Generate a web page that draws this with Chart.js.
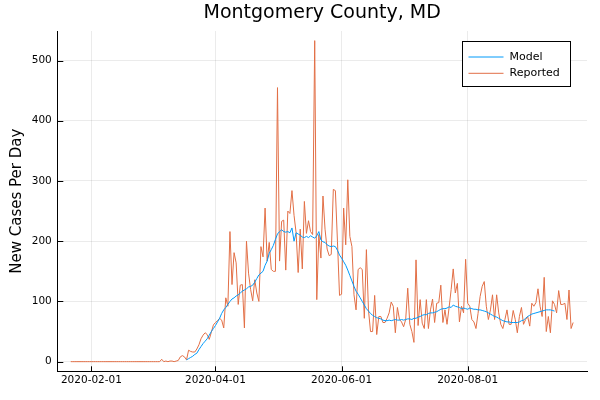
<!DOCTYPE html>
<html>
<head>
<meta charset="utf-8">
<script src="https://cdn.jsdelivr.net/npm/chart.js@4.4.1/dist/chart.umd.min.js"></script>
<style>
  html, body { margin: 0; padding: 0; background: #fff; }
  #wrap { width: 600px; height: 400px; }
</style>
</head>
<body>
<div id="wrap"><canvas id="chart" width="600" height="400"></canvas></div>
<script>
// data (daily values)
var chartTitle = 'Montgomery County, MD';
var yTitle = 'New Cases Per Day';
var startDate = '2020-01-22';      // first reported day
var modelStart = '2020-03-18';     // first model day
var xTickLabels = ['2020-02-01', '2020-04-01', '2020-06-01', '2020-08-01'];
var yTickValues = [0, 100, 200, 300, 400, 500];

var reported = [
    0, 0, 0, 0, 0, 0, 0, 0, 0, 0,
    0, 0, 0, 0, 0, 0, 0, 0, 0, 0,
    0, 0, 0, 0, 0, 0, 0, 0, 0, 0,
    0, 0, 0, 0, 0, 0, 0, 0, 0, 0,
    0, 0, 0,
    0, 4, 0, 1, 0, 1, 1, 0, 1, 2,
    8, 10, 8, 3, 19, 17, 16, 16, 21, 28,
    38, 44, 48, 45, 37, 49, 61, 65, 68, 72,
    69, 56, 106, 92, 216, 128, 181, 164, 95, 127,
    128, 56, 200, 147, 120, 101, 136, 114, 100, 191,
    174, 255, 167, 198, 153, 150, 150, 455, 167, 233,
    235, 152, 250, 246, 284, 243, 214, 148, 220, 154,
    266, 213, 234, 216, 211, 533, 103, 211, 172, 275,
    220, 187, 176, 178, 286, 284, 200, 110, 112, 255,
    194, 302, 208, 191, 111, 86, 153, 156, 153, 72,
    186, 86, 50, 50, 110, 45, 75, 75, 65, 65,
    72, 81, 99, 92, 48, 90, 70, 66, 58, 70,
    122, 62, 50, 32, 169, 60, 103, 64, 55, 103,
    55, 86, 104, 65, 97, 98, 127, 65, 86, 62,
    90, 120, 154, 114, 130, 66, 92, 81, 170, 97,
    92, 70, 66, 55, 80, 108, 125, 133, 92, 70,
    86, 111, 70, 111, 81, 62, 55, 70, 86, 62,
    62, 85, 70, 48, 75, 90, 62, 70, 75, 59,
    97, 92, 98, 121, 92, 75, 140, 50, 75, 48,
    101, 95, 81, 118, 95, 95, 97, 70, 119, 55,
    65
];

var model = [
    3, 5, 7, 9, 12, 14, 20, 25, 30, 34,
    38, 44, 50, 55, 60, 66, 72, 80, 86, 90,
    95, 100, 104, 106, 109, 111, 114, 117, 119, 121,
    124, 125, 127, 132, 138, 144, 147, 150, 160, 167,
    180, 186, 193, 203, 212, 216, 219, 216, 215, 216,
    214, 222, 200, 214, 212, 210, 207, 206, 208, 206,
    209, 207, 205, 209, 216, 202, 199, 198, 194, 192,
    191, 192, 191, 185, 177, 172, 166, 160, 152, 143,
    134, 125, 117, 112, 106, 100, 94, 88, 84, 80,
    77, 75, 73, 72, 71, 69, 68, 68, 69, 68,
    69, 70, 69, 69, 70, 69, 70, 71, 71, 70,
    72, 72, 74, 75, 77, 78, 78, 80, 81, 81,
    82, 83, 85, 87, 88, 88, 89, 91, 90, 94,
    92, 91, 90, 88, 89, 88, 87, 89, 88, 87,
    87, 86, 86, 85, 84, 83, 81, 79, 77, 75,
    74, 72, 70, 68, 67, 66, 66, 65, 65, 65,
    65, 66, 68, 69, 72, 75, 77, 79, 80, 81,
    82, 83, 84, 85, 86, 86, 86, 85, 84
];

var blue = '#009AFA';
var orange = '#E26F46';
var font = 'DejaVu Sans';

// days since startDate
function dayIndex(s) {
    return Math.round((Date.parse(s) - Date.parse(startDate)) / 86400000);
}

function dateLabel(v) {
    var d = new Date(Date.parse(startDate) + v * 86400000);
    return d.toISOString().slice(0, 10);
}

var modelOffset = dayIndex(modelStart);
var reportedPts = reported.map(function (v, i) { return {x: i, y: v}; });
var modelPts = model.map(function (v, i) { return {x: i + modelOffset, y: v}; });

// small tick marks pointing into the plot
var innerTicks = {
    id: 'innerTicks',
    afterDatasetsDraw: function (chart) {
        var ctx = chart.ctx, a = chart.chartArea;
        var xs = chart.scales.x, ys = chart.scales.y;
        ctx.save();
        ctx.strokeStyle = '#000';
        ctx.lineWidth = 1;
        ctx.beginPath();
        xs.ticks.forEach(function (t) {
            var px = Math.round(xs.getPixelForValue(t.value)) + 0.5;
            ctx.moveTo(px, a.bottom);
            ctx.lineTo(px, a.bottom - 5);
        });
        ys.ticks.forEach(function (t) {
            var py = Math.round(ys.getPixelForValue(t.value)) + 0.5;
            ctx.moveTo(a.left, py);
            ctx.lineTo(a.left + 6, py);
        });
        ctx.stroke();
        ctx.restore();
    }
};

// framed legend in the top right corner of the plot
var boxLegend = {
    id: 'boxLegend',
    afterDraw: function (chart) {
        var ctx = chart.ctx, a = chart.chartArea;
        var bx = Math.round(a.right - 125) + 0.5;
        var by = Math.round(a.top + 10) + 0.5;
        var w = 108, h = 45;
        ctx.save();
        ctx.fillStyle = '#fff';
        ctx.fillRect(bx, by, w, h);
        ctx.strokeStyle = '#000';
        ctx.lineWidth = 1;
        ctx.strokeRect(bx, by, w, h);
        ctx.font = '11px "' + font + '"';
        ctx.textBaseline = 'middle';
        ctx.fillStyle = '#000';
        chart.data.datasets.forEach(function (ds, i) {
            var ly = by + 15.5 + i * 16.3;
            ctx.strokeStyle = ds.borderColor;
            ctx.beginPath();
            ctx.moveTo(bx + 6, ly);
            ctx.lineTo(bx + 41, ly);
            ctx.stroke();
            ctx.fillText(ds.label, bx + 47, ly);
        });
        ctx.restore();
    }
};

var ctx = document.getElementById('chart').getContext('2d');
var myChart = new Chart(ctx, {
    type: 'line',
    data: {
        datasets: [{
            label: 'Model',
            data: modelPts,
            borderColor: blue,
            borderWidth: 1,
            pointRadius: 0,
            tension: 0
        }, {
            label: 'Reported',
            data: reportedPts,
            borderColor: orange,
            borderWidth: 1,
            pointRadius: 0,
            tension: 0
        }]
    },
    options: {
        responsive: false,
        animation: false,
        layout: { padding: { left: 0, right: 13, top: 0, bottom: 0 } },
        plugins: {
            legend: { display: false },
            tooltip: { enabled: false },
            title: {
                display: true,
                text: chartTitle,
                fullSize: false,
                color: '#000',
                font: { family: font, size: 19, weight: 'normal' },
                padding: { top: 1.5, bottom: 6.7 }
            }
        },
        scales: {
            x: {
                type: 'linear',
                min: -6.5,
                max: 249.7,
                border: { display: true, color: '#000', width: 1 },
                grid: { color: 'rgba(0,0,0,0.08)', lineWidth: 1, drawTicks: false },
                ticks: {
                    color: '#000',
                    padding: 3,
                    maxRotation: 0,
                    font: { family: font, size: 10.5 },
                    callback: function (v) { return dateLabel(v); }
                },
                afterBuildTicks: function (scale) {
                    scale.ticks = xTickLabels.map(function (s) { return {value: dayIndex(s)}; });
                },
                afterFit: function (scale) { scale.height = 28.7; }
            },
            y: {
                type: 'linear',
                min: -16,
                max: 549,
                border: { display: true, color: '#000', width: 1 },
                grid: { color: 'rgba(0,0,0,0.08)', lineWidth: 1, drawTicks: false },
                ticks: {
                    color: '#000',
                    padding: 5.5,
                    font: { family: font, size: 10.5 }
                },
                afterBuildTicks: function (scale) {
                    scale.ticks = yTickValues.map(function (v) { return {value: v}; });
                },
                title: {
                    display: true,
                    text: yTitle,
                    color: '#000',
                    font: { family: font, size: 15 },
                    padding: { top: 8, bottom: 0 }
                },
                afterFit: function (scale) { scale.width = 57.3; }
            }
        }
    },
    plugins: [innerTicks, boxLegend]
});
</script>
</body>
</html>
